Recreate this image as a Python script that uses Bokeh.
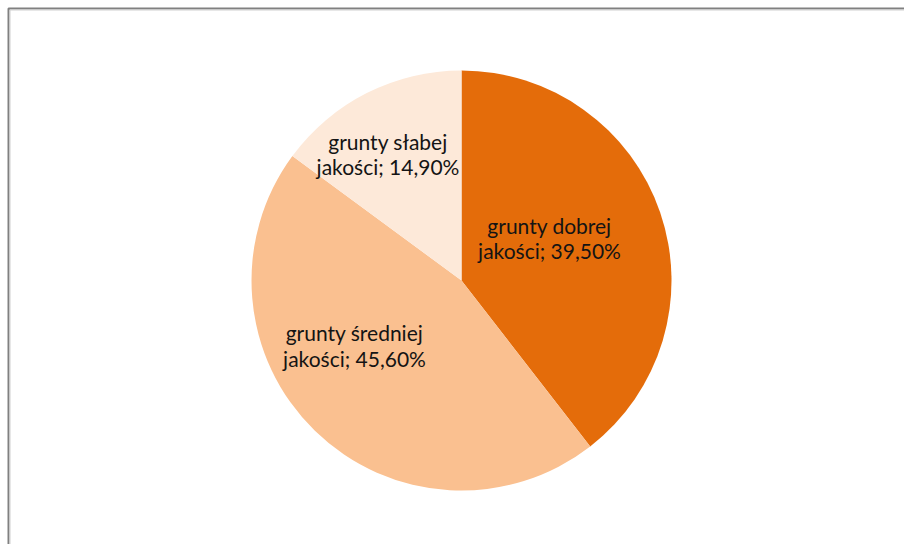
import math
from bokeh.plotting import figure
from bokeh.models import Range1d, ColumnDataSource
from bokeh.core.properties import value
from bokeh.embed import file_html
from bokeh.resources import INLINE

# ---- data ----
categories = ["grunty dobrej jakości", "grunty średniej jakości", "grunty słabej jakości"]
shares = [39.5, 45.6, 14.9]
colors = ["#E46C0A", "#FAC090", "#FDE9D9"]
label_lines = [["grunty dobrej", "jakości; 39,50%"],
               ["grunty średniej", "jakości; 45,60%"],
               ["grunty słabej", "jakości; 14,90%"]]

# ---- layout (pixel-like data units) ----
W, H = 904, 544
cx, cy, R = 461, 264, 210
# label block centre offsets from pie centre (dx right, dy up)
label_off = [(88, 42.5), (-107, -65), (-73.5, 126.5)]
line_gap = 25.5

p = figure(width=W, height=H, output_backend="svg", toolbar_location=None,
           x_range=Range1d(0, W), y_range=Range1d(0, H), min_border=0)
p.axis.visible = False
p.grid.visible = False
p.outline_line_color = None
p.background_fill_color = "white"
p.border_fill_color = "white"

# chart frame border (right and bottom edges fall outside the window)
p.quad(left=[8], right=[W + 20], bottom=[-20], top=[H - 8],
       fill_color=None, line_color="#808080", line_width=2)
p.quad(left=[9.5], right=[W + 20], bottom=[-20], top=[H - 9.5],
       fill_color=None, line_color="#d0d0d0", line_width=1)

total = sum(shares)
starts, ends = [], []
a = math.pi / 2
for s in shares:
    starts.append(a)
    a = a - 2 * math.pi * s / total
    ends.append(a)

src = ColumnDataSource(dict(x=[cx] * 3, y=[cy] * 3, start=starts, end=ends, color=colors))
p.wedge(x="x", y="y", radius=R, start_angle="start", end_angle="end",
        direction="clock", fill_color="color", line_color=None, source=src)

tx, ty, tt = [], [], []
for (dx, dy), lines in zip(label_off, label_lines):
    n = len(lines)
    for i, t in enumerate(lines):
        tx.append(cx + dx)
        ty.append(cy + dy + (n - 1) / 2 * line_gap - i * line_gap)
        tt.append(t)
p.text(x=tx, y=ty, text=tt, text_align="center", text_baseline="middle",
       text_font=value("Lato"), text_font_size="21px", text_color="#141414")

open("out.html", "w").write(file_html(p, INLINE))
